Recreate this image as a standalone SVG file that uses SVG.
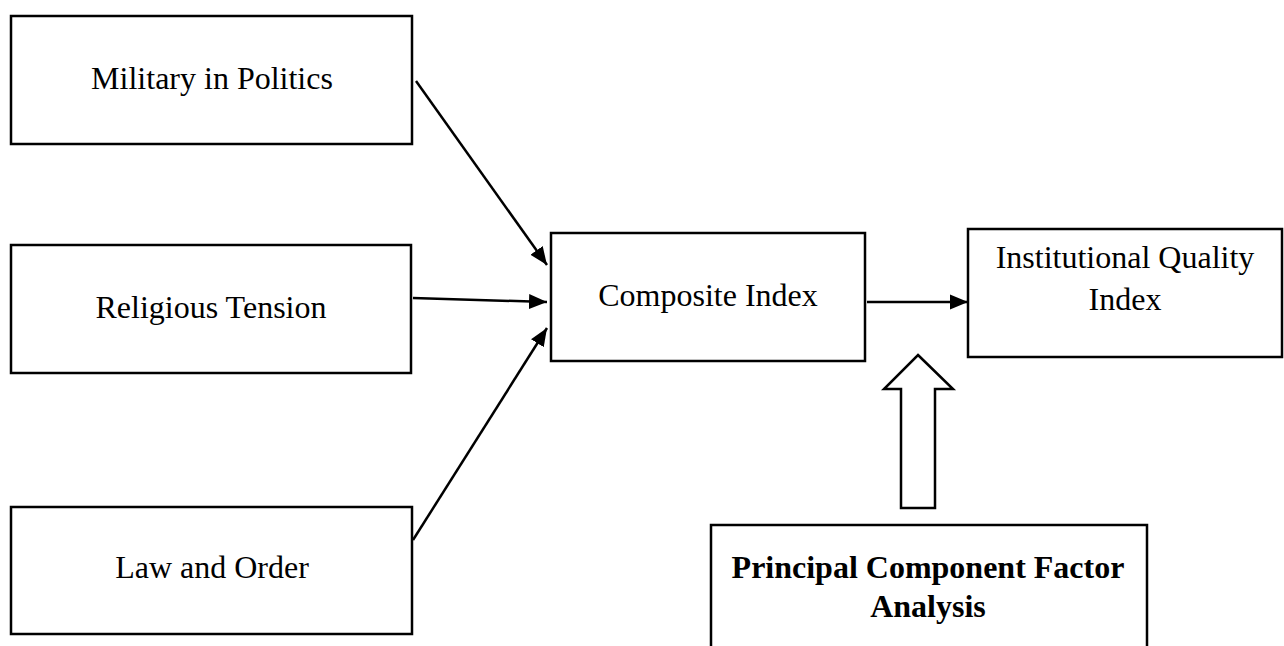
<svg xmlns="http://www.w3.org/2000/svg" width="1284" height="646" viewBox="0 0 1284 646">
<style>
.box{fill:#fff;stroke:#000;stroke-width:2.5}
.t{font-family:"Liberation Serif","Times New Roman",serif;font-size:32px;fill:#000;text-anchor:middle}
.b{font-weight:bold}
.c{stroke:#000;stroke-width:2.5;fill:none}
</style>
<defs>
<marker id="ah" markerUnits="userSpaceOnUse" markerWidth="18" markerHeight="16" viewBox="0 0 18 16" refX="18" refY="8" orient="auto">
<path d="M0,0.5 L18,8 L0,15.5 Z" fill="#000"/>
</marker>
</defs>
<rect width="1284" height="646" fill="#fff"/>
<g id="military">
<rect class="box" x="11" y="16" width="401" height="128"/>
<text class="t" x="212" y="89">Military in Politics</text>
</g>
<g id="religious">
<rect class="box" x="11" y="245" width="400" height="128"/>
<text class="t" x="211" y="318">Religious Tension</text>
</g>
<g id="law">
<rect class="box" x="11" y="507" width="401" height="127"/>
<text class="t" x="212" y="578">Law and Order</text>
</g>
<g id="composite">
<rect class="box" x="551" y="233" width="314" height="128"/>
<text class="t" x="708" y="306">Composite Index</text>
</g>
<g id="iqi">
<rect class="box" x="968" y="229" width="314" height="128"/>
<text class="t" x="1125" y="268">Institutional Quality</text>
<text class="t" x="1125" y="310">Index</text>
</g>
<g id="pca">
<path class="box" d="M711,650 V525 H1147 V650"/>
<text class="t b" x="928" y="578">Principal Component Factor</text>
<text class="t b" x="928" y="617">Analysis</text>
</g>
<g id="connectors">
<line class="c" x1="416" y1="81" x2="547" y2="265" marker-end="url(#ah)"/>
<line class="c" x1="413" y1="298" x2="547" y2="302" marker-end="url(#ah)"/>
<line class="c" x1="413" y1="540" x2="547" y2="328" marker-end="url(#ah)"/>
<line class="c" x1="867" y1="302" x2="968" y2="302" marker-end="url(#ah)"/>
<polygon class="box" points="918,355 953,389 935,389 935,508 901,508 901,389 884,389"/>
</g>
</svg>
